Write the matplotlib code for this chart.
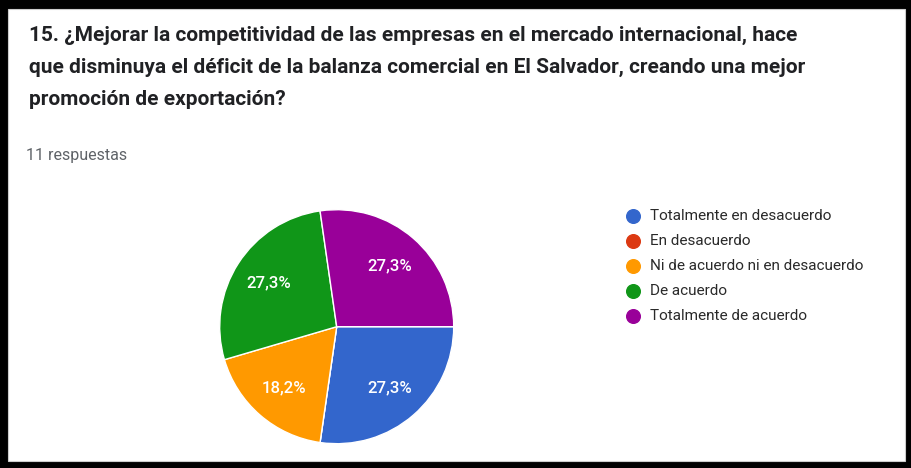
import matplotlib
matplotlib.use("Agg")
import matplotlib.pyplot as plt
from matplotlib.patches import Rectangle
from matplotlib.lines import Line2D

categories = ["Totalmente en desacuerdo", "En desacuerdo",
              "Ni de acuerdo ni en desacuerdo", "De acuerdo",
              "Totalmente de acuerdo"]
counts = [3, 0, 2, 3, 3]
colors = ["#3366cc", "#dc3912", "#ff9900", "#109618", "#990099"]
title_lines = ["15. ¿Mejorar la competitividad de las empresas en el mercado internacional, hace",
               "que disminuya el déficit de la balanza comercial en El Salvador, creando una mejor",
               "promoción de exportación?"]
subtitle = "11 respuestas"

W, H = 912, 468
fig = plt.figure(figsize=(W / 100, H / 100), dpi=100, facecolor="black")
fig.add_artist(Rectangle((8 / W, (H - 461) / H), (905 - 8) / W, (461 - 9) / H,
                         transform=fig.transFigure, facecolor="white",
                         edgecolor="#cccccc", linewidth=0.8, zorder=0))
renderer = fig.canvas.get_renderer()

FONT = ["Roboto", "DejaVu Sans"]


def fy(py):
    return (H - py) / H


def fit(texts, target_px):
    """Scale font size of text objects so the first has the target pixel width."""
    w = texts[0].get_window_extent(renderer).width
    fs = texts[0].get_fontsize() * target_px / w
    for t in texts:
        t.set_fontsize(fs)
    return fs


title_objs = []
for i, line in enumerate(title_lines):
    title_objs.append(fig.text(29 / W, fy(41 + 32 * i), line, fontsize=13.2,
                               fontweight="bold", color="#202124", family=FONT,
                               ha="left", va="baseline"))
fit(title_objs, 768)

sub = fig.text(26 / W, fy(160), subtitle, fontsize=9.6, color="#5f6368",
               family=FONT, ha="left", va="baseline")
fit([sub], 101)

cx, cy, r = 336.7, 326.7, 117
ax = fig.add_axes([(cx - r) / W, (H - cy - r) / H, 2 * r / W, 2 * r / H])
ax.set_facecolor("none")


def fmt(p):
    return ("%.1f%%" % p).replace(".", ",") if p > 0.05 else ""


wedges, texts, autotexts = ax.pie(
    counts, colors=colors, startangle=0, counterclock=False,
    autopct=fmt, pctdistance=0.69, radius=1,
    wedgeprops=dict(edgecolor="white", linewidth=1.0),
    textprops=dict(color="white", fontsize=9.6, family=FONT))
ax.set_xlim(-1, 1)
ax.set_ylim(-1, 1)
ax.set_aspect("equal")
ax.axis("off")
nonempty = [t for t in autotexts if t.get_text()]
fit(nonempty, 44)
for t in nonempty:
    t.set_fontweight("medium")

leg_texts = []
for i, (cat, col) in enumerate(zip(categories, colors)):
    y = 216 + 25.1 * i
    fig.add_artist(Line2D([633 / W], [fy(y)], transform=fig.transFigure,
                          marker="o", markersize=9.8, color=col, linestyle="none"))
    leg_texts.append(fig.text(650 / W, fy(y), cat, fontsize=9.8, color="#2a2a2a",
                              family=FONT, ha="left", va="center"))
fit(leg_texts, 181)

fig.savefig("out.png", dpi=100, facecolor="black")
